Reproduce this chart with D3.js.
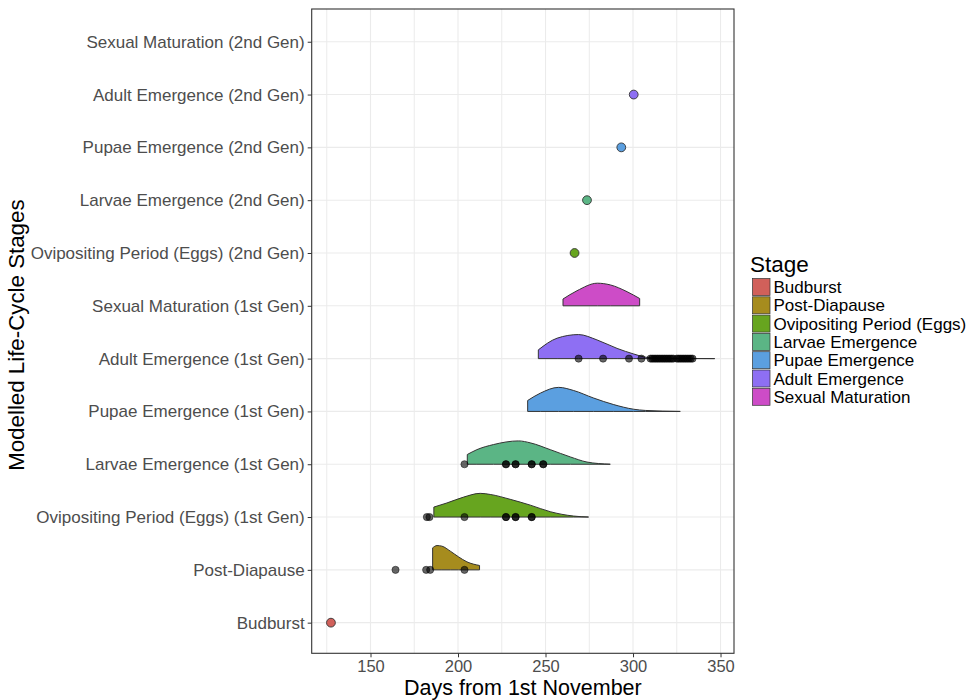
<!DOCTYPE html>
<html><head><meta charset="utf-8">
<script src="https://cdn.jsdelivr.net/npm/d3@7"></script>
<style>
body{margin:0;background:#fff;}
text{font-family:"Liberation Sans",Arial,sans-serif;}
</style></head>
<body><svg id="c" width="966" height="700"></svg>
<script>
// ---- data ----
const rowLabels = [
  "Budburst","Post-Diapause","Ovipositing Period (Eggs) (1st Gen)","Larvae Emergence (1st Gen)",
  "Pupae Emergence (1st Gen)","Adult Emergence (1st Gen)","Sexual Maturation (1st Gen)",
  "Ovipositing Period (Eggs) (2nd Gen)","Larvae Emergence (2nd Gen)","Pupae Emergence (2nd Gen)",
  "Adult Emergence (2nd Gen)","Sexual Maturation (2nd Gen)"
];
const stageNames = ["Budburst","Post-Diapause","Ovipositing Period (Eggs)","Larvae Emergence","Pupae Emergence","Adult Emergence","Sexual Maturation"];
const stageColors = ["#D1605A","#A68C1E","#67A51F","#5BB585","#5B9FE0","#8E6FF3","#CD4CC7"];
const xTicks = [150,200,250,300,350];
const xMinor = [125,175,225,275,325];

// density ridges: row, stage, days, relative density
const ridgeRows   = [1,2,3,4,5,6];
const ridgeStages = [1,2,3,4,5,6];
const ridgeDays = [
  [185.5,188,190.8,195.6,200.3,205.1,212.3],
  [186.2,193.7,203.2,212.7,218.4,229.8,241.3,252.7,266.1,274.6],
  [205.3,210.8,220.3,234.6,241.3,252.7,264.2,273.7,287],
  [239.8,247,257.5,266.1,277.5,289,300.4,307.1,327],
  [245.9,256.6,268.9,279.4,290.9,300.4,308,320,346.7],
  [260,268,279.6,287,296.6,303.8]
];
const ridgeDensity = [
  [0.905,1.0,0.975,0.77,0.535,0.33,0.18],
  [0.41,0.58,0.82,0.975,0.93,0.73,0.49,0.22,0.04,0],
  [0.40,0.60,0.81,0.96,0.88,0.60,0.30,0.09,0],
  [0.45,0.75,0.99,0.86,0.55,0.28,0.09,0.04,0],
  [0.36,0.84,0.99,0.77,0.42,0.19,0.05,0.01,0],
  [0.28,0.62,0.93,0.86,0.58,0.30]
];

// observed points (grey)
const obsRows = [1,2,3,5];
const obsDays = [
  [164.3,181.8,184.1,203.7],
  [182.2,183.7,203.7,227.4,227.4,232.9,232.9,242.1,242.1],
  [203.7,227.4,227.4,232.9,232.9,242.1,242.1,248.7,248.7],
  [268.9,282.9,297.7,304.8,310,311,312,313,314,315,316,317,318,319,320,321,322,323,325,326,327,328,329,330,331,332,333,334]
];

// single modelled dates (coloured)
const singleRows   = [0,7,8,9,10];
const singleStages = [0,2,3,4,5];
const singleDays   = [127.4,266.6,273.7,293.3,300.4];

// ---- layout ----
const svg = d3.select("#c");
const P = {l:311.7, r:734, t:9, b:653.3};
const x = d3.scaleLinear().domain([116.4,357.7]).range([P.l,P.r]);
const y = d3.scaleLinear().domain([-0.58,11.62]).range([P.b,P.t]);
const h = d3.scaleLinear().domain([0,1]).range([0,24.3]);
const FONT = "Liberation Sans, Arial, sans-serif";

// grid
const g = svg.append("g");
g.selectAll(".gmin").data(xMinor).join("line")
  .attr("x1",d=>x(d)).attr("x2",d=>x(d)).attr("y1",P.t).attr("y2",P.b)
  .attr("stroke","#ebebeb").attr("stroke-width",1);
g.selectAll(".gmaj").data(xTicks).join("line")
  .attr("x1",d=>x(d)).attr("x2",d=>x(d)).attr("y1",P.t).attr("y2",P.b)
  .attr("stroke","#ebebeb").attr("stroke-width",1.1);
g.selectAll(".gy").data(d3.range(rowLabels.length)).join("line")
  .attr("x1",P.l).attr("x2",P.r).attr("y1",d=>y(d)).attr("y2",d=>y(d))
  .attr("stroke","#ebebeb").attr("stroke-width",1.1);

// ridges (top rows first so lower rows overlay)
const area = d3.area().curve(d3.curveMonotoneX);
for (let i = ridgeRows.length-1; i >= 0; i--) {
  const base = y(ridgeRows[i]);
  const pts = ridgeDays[i].map((d,j)=>[d,ridgeDensity[i][j]]);
  area.x(p=>x(p[0])).y0(base).y1(p=>base - h(p[1]));
  svg.append("path").attr("d",area(pts))
    .attr("fill",stageColors[ridgeStages[i]])
    .attr("stroke","#333").attr("stroke-width",1);
}

// observed points
obsRows.forEach((r,i)=>{
  svg.append("g").selectAll("circle").data(obsDays[i]).join("circle")
    .attr("cx",d=>x(d)).attr("cy",y(r)).attr("r",3.6)
    .attr("fill","#000").attr("fill-opacity",0.6)
    .attr("stroke","#000").attr("stroke-opacity",0.6).attr("stroke-width",0.8);
});

// coloured single points
svg.append("g").selectAll("circle").data(singleDays).join("circle")
  .attr("cx",d=>x(d)).attr("cy",(d,i)=>y(singleRows[i])).attr("r",4.4)
  .attr("fill",(d,i)=>stageColors[singleStages[i]])
  .attr("stroke","#333").attr("stroke-width",0.9);

// panel border
svg.append("rect").attr("x",P.l).attr("y",P.t).attr("width",P.r-P.l).attr("height",P.b-P.t)
  .attr("fill","none").attr("stroke","#333").attr("stroke-width",1.1);

// x axis
const xa = svg.append("g").attr("transform",`translate(0,${P.b})`)
  .call(d3.axisBottom(x).tickValues(xTicks).tickSize(4).tickPadding(3));
xa.select(".domain").remove();
xa.selectAll("line").attr("stroke","#333");
xa.selectAll("text").attr("fill","#4d4d4d").style("font-size","16.5px").style("font-family",FONT);

// y axis
const ya = svg.append("g").attr("transform",`translate(${P.l},0)`)
  .call(d3.axisLeft(y).tickValues(d3.range(rowLabels.length)).tickFormat(i=>rowLabels[i]).tickSize(4).tickPadding(3));
ya.select(".domain").remove();
ya.selectAll("line").attr("stroke","#333");
ya.selectAll("text").attr("fill","#4d4d4d").style("font-size","17px").style("font-family",FONT);

// titles
svg.append("text").attr("x",(P.l+P.r)/2).attr("y",695.3).attr("text-anchor","middle")
  .style("font-size","21.5px").attr("fill","#000").text("Days from 1st November");
svg.append("text").attr("transform",`translate(24,${(P.t+P.b)/2 + 4}) rotate(-90)`).attr("text-anchor","middle")
  .style("font-size","22.3px").attr("fill","#000").text("Modelled Life-Cycle Stages");

// legend
const L = svg.append("g");
L.append("text").attr("x",750).attr("y",272).style("font-size","22.5px").attr("fill","#000").text("Stage");
stageNames.forEach((s,i)=>{
  const yy = 278.5 + i*18.3;
  L.append("rect").attr("x",752.5).attr("y",yy).attr("width",17.5).attr("height",17)
    .attr("fill",stageColors[i]).attr("stroke","#333").attr("stroke-width",0.7);
  L.append("text").attr("x",773.5).attr("y",yy+8.5).attr("dy","0.36em")
    .style("font-size","17px").attr("fill","#000").text(s);
});
</script></body></html>
